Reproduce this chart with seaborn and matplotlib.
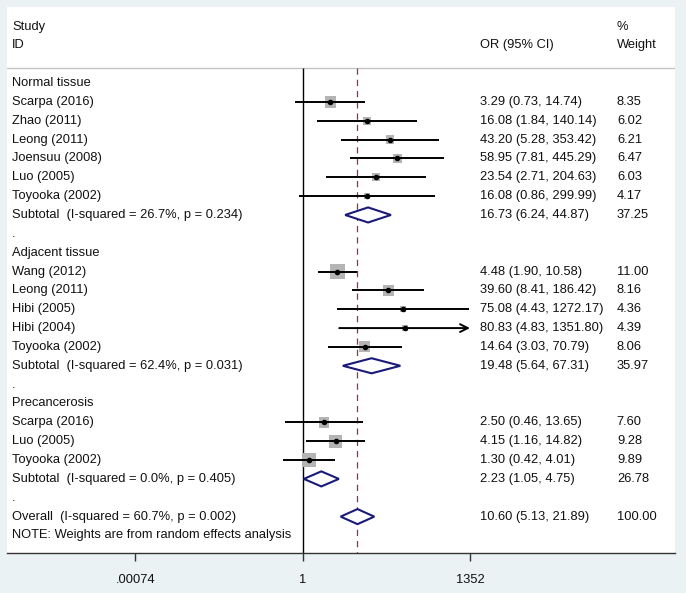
import numpy as np
import pandas as pd
import matplotlib
matplotlib.use("Agg")
import matplotlib.pyplot as plt
import matplotlib.transforms as mtransforms
from matplotlib.patches import Polygon
import seaborn as sns

# Stata-like forest plot
sns.set_style("white")
plt.rcParams['font.family'] = ['Liberation Sans', 'DejaVu Sans']

##########################################################################
# data

groups = ["Normal tissue", "Adjacent tissue", "Precancerosis"]
study = ["Scarpa (2016)", "Zhao (2011)", "Leong (2011)", "Joensuu (2008)",
         "Luo (2005)", "Toyooka (2002)",
         "Wang (2012)", "Leong (2011)", "Hibi (2005)", "Hibi (2004)",
         "Toyooka (2002)",
         "Scarpa (2016)", "Luo (2005)", "Toyooka (2002)"]
group_of = [0, 0, 0, 0, 0, 0, 1, 1, 1, 1, 1, 2, 2, 2]
odds = [3.29, 16.08, 43.20, 58.95, 23.54, 16.08,
        4.48, 39.60, 75.08, 80.83, 14.64,
        2.50, 4.15, 1.30]
lower = [0.73, 1.84, 5.28, 7.81, 2.71, 0.86,
         1.90, 8.41, 4.43, 4.83, 3.03,
         0.46, 1.16, 0.42]
upper = [14.74, 140.14, 353.42, 445.29, 204.63, 299.99,
         10.58, 186.42, 1272.17, 1351.80, 70.79,
         13.65, 14.82, 4.01]
weight = [8.35, 6.02, 6.21, 6.47, 6.03, 4.17,
          11.00, 8.16, 4.36, 4.39, 8.06,
          7.60, 9.28, 9.89]
# CI that runs off the axis gets an arrow
arrow = [False] * 9 + [True] + [False] * 4

sub_or = [16.73, 19.48, 2.23]
sub_lo = [6.24, 5.64, 1.05]
sub_hi = [44.87, 67.31, 4.75]
sub_wt = [37.25, 35.97, 26.78]
sub_i2 = ["26.7%", "62.4%", "0.0%"]
sub_p = ["0.234", "0.031", "0.405"]

all_or, all_lo, all_hi, all_wt = 10.60, 5.13, 21.89, 100.00
all_i2, all_p = "60.7%", "0.002"

tick_vals = [0.00074, 1, 1352]
tick_labels = [".00074", "1", "1352"]

##########################################################################
# build the row table

rows = []
r = 0
for g, name in enumerate(groups):
    rows.append(dict(row=r, label=name, kind="head"))
    r += 1
    for i in range(len(study)):
        if group_of[i] != g:
            continue
        rows.append(dict(row=r, label=study[i], kind="study", est=odds[i],
                         lo=lower[i], hi=upper[i], wt=weight[i], arrow=arrow[i]))
        r += 1
    rows.append(dict(row=r, label="Subtotal  (I-squared = %s, p = %s)" % (sub_i2[g], sub_p[g]),
                     kind="diamond", est=sub_or[g], lo=sub_lo[g], hi=sub_hi[g], wt=sub_wt[g]))
    r += 1
    rows.append(dict(row=r, label=".", kind="head"))
    r += 1
rows.append(dict(row=r, label="Overall  (I-squared = %s, p = %s)" % (all_i2, all_p),
                 kind="diamond", est=all_or, lo=all_lo, hi=all_hi, wt=all_wt))
r += 1
rows.append(dict(row=r, label="NOTE: Weights are from random effects analysis", kind="head"))
df = pd.DataFrame(rows)

st = df[df.kind == "study"].copy()
st["area"] = (0.98 * st["wt"]) ** 2

##########################################################################

fig = plt.figure(figsize=(6.86, 5.93), dpi=100, facecolor="#eaf2f3")
ax = fig.add_axes([7 / 686, 40 / 593, 668 / 686, 546 / 593])
ax.set_facecolor("white")
ax.set_xscale("log")
ax.set_xlim(2.92e-6, 9.3e6)
top_row = -4.03
bottom_row = 24.93
ax.set_ylim(bottom_row, top_row)
line_row = -0.8

txt = dict(fontsize=9.3, color="#111111", va="center")
blend = mtransforms.blended_transform_factory(ax.transAxes, ax.transData)

# header
ax.text(0.0075, -2.97, "Study", transform=blend, **txt)
ax.text(0.0075, -2.0, "ID", transform=blend, **txt)
ax.text(0.708, -2.0, "OR (95% CI)", transform=blend, **txt)
ax.text(0.913, -2.97, "%", transform=blend, **txt)
ax.text(0.913, -2.0, "Weight", transform=blend, **txt)
ax.axhline(line_row, color="#c4c4c4", lw=1)

# reference lines
ax.vlines(1, line_row, bottom_row, color="black", lw=1)
ax.vlines(all_or, line_row, bottom_row, color="#a8283c", lw=0.9, linestyles=(0, (5, 4)))

# study squares
sns.scatterplot(data=st, x="est", y="row", size="area",
                sizes=(st["area"].min(), st["area"].max()),
                marker="s", color="#b4b4b4", linewidth=0, legend=False, ax=ax, zorder=3)

for _, s in st.iterrows():
    if s["arrow"]:
        ax.annotate("", xy=(tick_vals[-1], s["row"]), xytext=(s["lo"], s["row"]),
                    arrowprops=dict(arrowstyle="->", lw=1.4, color="black",
                                    shrinkA=0, shrinkB=0, mutation_scale=14), zorder=4)
    else:
        ax.hlines(s["row"], s["lo"], s["hi"], color="black", lw=1.4, zorder=4)
ax.plot(st["est"], st["row"], "o", ms=3.0, color="black", zorder=5)

# diamonds
for _, d in df[df.kind == "diamond"].iterrows():
    y = d["row"]
    h = 0.4
    poly = Polygon([(d["lo"], y), (d["est"], y - h), (d["hi"], y), (d["est"], y + h)],
                   closed=True, facecolor="white", edgecolor="#1a1a7a", lw=1.5, zorder=5)
    ax.add_patch(poly)

# text columns
for _, t in df.iterrows():
    ax.text(0.0075, t["row"], t["label"], transform=blend, **txt)
    if t["kind"] in ("study", "diamond"):
        ax.text(0.708, t["row"], "%.2f (%.2f, %.2f)" % (t["est"], t["lo"], t["hi"]),
                transform=blend, **txt)
        ax.text(0.913, t["row"], "%.2f" % t["wt"], transform=blend, **txt)

# axis
ax.set_xticks(tick_vals)
ax.set_xticklabels(tick_labels)
ax.xaxis.set_minor_locator(matplotlib.ticker.NullLocator())
ax.tick_params(axis="x", direction="out", length=6, width=1, color="#333333",
               pad=9, labelsize=9.3, labelcolor="#111111", bottom=True)
ax.set_yticks([])
for side in ["top", "left", "right"]:
    ax.spines[side].set_visible(False)
ax.spines["bottom"].set_color("#333333")
ax.spines["bottom"].set_linewidth(1)
ax.set_xlabel("")
ax.set_ylabel("")

plt.savefig("out.png", dpi=100, facecolor=fig.get_facecolor())
